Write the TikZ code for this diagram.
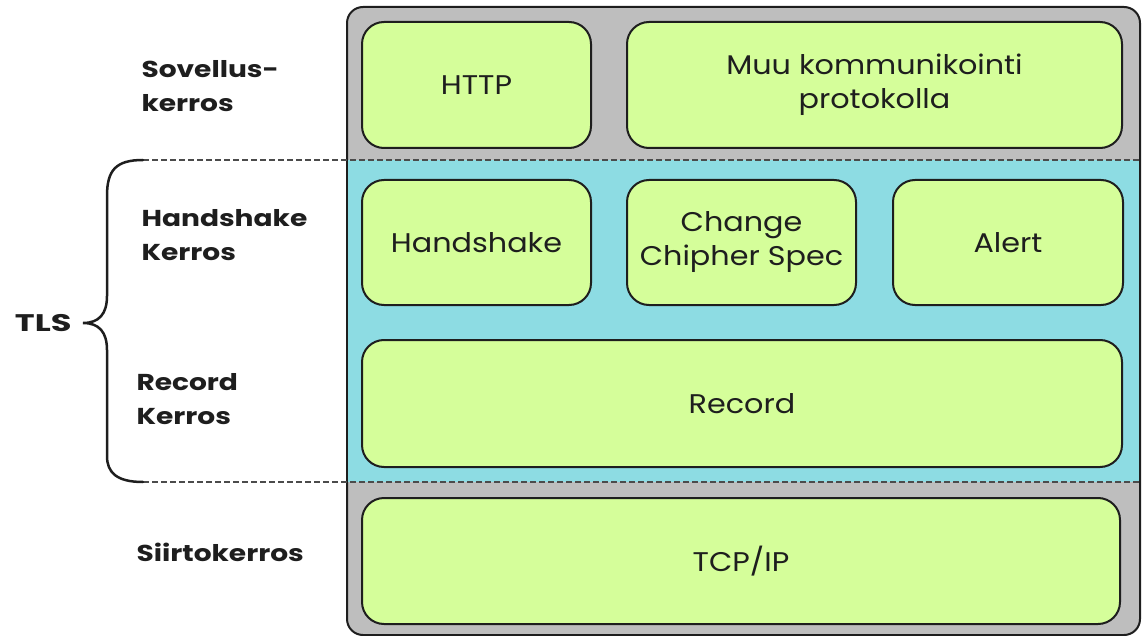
\documentclass[tikz,border=0pt]{standalone}
\usepackage{fontspec}
\setmainfont{Poppins}
\newfontfamily\boxfont[FakeStretch=1.12]{Poppins}
\newfontfamily\labelfont[FakeStretch=1.22]{Poppins}
\newfontfamily\tlsfont[FakeStretch=1.4]{Poppins}
\definecolor{layergray}{HTML}{BEBEBE}
\definecolor{tlscyan}{HTML}{8DDCE3}
\definecolor{protogreen}{HTML}{D5FE9A}
\definecolor{ink}{HTML}{1E1E1E}
\begin{document}
\begin{tikzpicture}[x=1pt,y=-1pt,
  proto/.style={draw=ink, line width=2pt, fill=protogreen, rounded corners=22pt,
    align=center, font=\boxfont\fontsize{27}{34}\selectfont, text=ink, inner sep=0pt},
  layerlabel/.style={anchor=west, align=left, font=\labelfont\fontsize{23}{34}\selectfont\bfseries, text=ink},
  sep/.style={draw=ink!80, line width=1.5pt, dash pattern=on 6pt off 3pt}]
\useasboundingbox (0,0) rectangle (1142,636);

% outer stack
\draw[draw=ink, line width=2pt, fill=layergray, rounded corners=16pt] (347,7) rectangle (1140,635);
% TLS band
\fill[tlscyan] (348,160) rectangle (1139,482);

% layer separators
\coordinate (sepTopL) at (143,160);
\coordinate (sepTopR) at (1142,160);
\coordinate (sepBotL) at (143,482);
\coordinate (sepBotR) at (1142,482);
\draw[sep] (sepTopL) -- (sepTopR);
\draw[sep] (sepBotL) -- (sepBotR);

% protocol boxes
\node[proto, minimum width=229pt, minimum height=126pt] (http) at (476.5,85) {HTTP};
\node[proto, minimum width=495pt, minimum height=126pt] (muu) at (874.5,85) {Muu kommunikointi\\protokolla};
\node[proto, minimum width=229pt, minimum height=125pt] (hs) at (476.5,242.5) {Handshake};
\node[proto, minimum width=229pt, minimum height=125pt] (ccs) at (741.5,242.5) {Change\\Chipher Spec};
\node[proto, minimum width=230pt, minimum height=125pt] (alert) at (1008,242.5) {Alert};
\node[proto, minimum width=760pt, minimum height=127pt] (record) at (742,403.5) {Record};
\node[proto, minimum width=758pt, minimum height=126pt] (tcp) at (741,561) {TCP/IP};

% layer names
\node[layerlabel] (app) at (138,86) {Sovellus-\\kerros};
\node[layerlabel] (hsl) at (138,235) {Handshake\\Kerros};
\node[layerlabel] (recl) at (133,399) {Record\\Kerros};
\node[layerlabel] (trl) at (133,552) {Siirtokerros};

% TLS brace
\coordinate (tip) at (83,323);
\draw[ink, line width=2.5pt, line cap=round]
  (sepTopL) .. controls (116,160) and (107,170) .. (107,196) -- (107,296)
  .. controls (107,314) and (99,323) .. (tip)
  .. controls (99,323) and (107,332) .. (107,350) -- (107,456)
  .. controls (107,472) and (116,482) .. (sepBotL);
\node[layerlabel, font=\tlsfont\fontsize{24}{30}\selectfont\bfseries, anchor=east] (tls) at (75,323) {TLS};
\end{tikzpicture}
\end{document}
